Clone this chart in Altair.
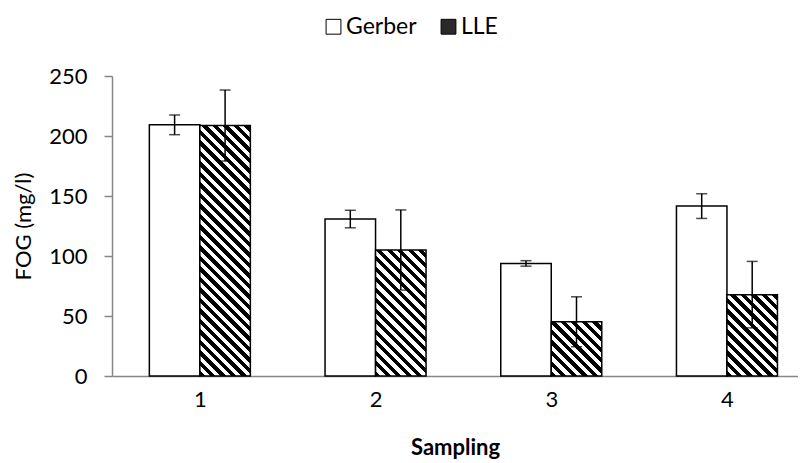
import altair as alt
import pandas as pd

# ---------------- data ----------------
samplings = [1, 2, 3, 4]
series_names = ["Gerber", "LLE"]
gerber_mean = [209.3, 130.8, 93.8, 141.6]
gerber_err = [8.2, 7.3, 2.3, 10.3]
lle_mean = [208.7, 105.0, 45.2, 67.8]
lle_err = [29.6, 33.4, 20.8, 27.7]
y_ticks = [0, 50, 100, 150, 200, 250]

rows = []
for i, s in enumerate(samplings):
    rows.append({"sampling": s, "series": "Gerber", "value": gerber_mean[i], "err": gerber_err[i]})
    rows.append({"sampling": s, "series": "LLE", "value": lle_mean[i], "err": lle_err[i]})
df = pd.DataFrame(rows)

# ---------------- layout / style ----------------
PLOT_W = 686
PLOT_H = 300
Y_MAX = 250
STEP_PX = 175.7
BAR_PX = 50.5
X_MIN = 0.5
X_MAX = X_MIN + PLOT_W / STEP_PX
BAR_U = BAR_PX / STEP_PX
FONT = "Lato"
AXIS_GRAY = "#868686"
FS = 22


def hatch(h, w=BAR_PX, period=10.5):
    """Diagonal '\\' stripes built as a hard-stop linear gradient."""
    total = w + h
    half = period / 2.0
    stops = []
    j = 0
    pos = 0.0
    while pos < total - 1e-9:
        end = min(pos + half, total)
        c = "black" if j % 2 == 0 else "white"
        stops.append(alt.GradientStop(offset=round(pos / total, 5), color=c))
        stops.append(alt.GradientStop(offset=round(end / total, 5), color=c))
        pos = end
        j += 1
    k = (w + h) / (w * w + h * h)
    return alt.LinearGradient(gradient="linear", stops=stops,
                              x1=0, y1=1, x2=round(w * k, 6), y2=round(1 - h * k, 6))


base = alt.Chart(df).transform_calculate(
    xl=f"datum.sampling + (datum.series == 'Gerber' ? -{BAR_U} : 0)",
).transform_calculate(
    xr=f"datum.xl + {BAR_U}",
    xm=f"datum.xl + {BAR_U / 2}",
    lo="datum.value - datum.err",
    hi="datum.value + datum.err",
)

xscale = alt.Scale(domain=[X_MIN, X_MAX], nice=False, zero=False)
yscale = alt.Scale(domain=[0, Y_MAX], nice=False)

x_axis = alt.Axis(values=samplings, format="d", ticks=False, grid=False,
                  domainColor=AXIS_GRAY, domainWidth=1.5,
                  labelFontSize=FS, labelPadding=13, labelColor="black", labelFont=FONT,
                  title="Sampling", titleFontSize=FS, titleFontWeight="bold",
                  titlePadding=27, titleColor="black", titleFont=FONT)
y_axis = alt.Axis(values=y_ticks, grid=False, domainColor=AXIS_GRAY, domainWidth=1.5,
                  tickColor=AXIS_GRAY, tickSize=8, tickWidth=1.5,
                  labelFontSize=FS, labelPadding=17, labelColor="black", labelFont=FONT,
                  title="FOG (mg/l)", titleFontSize=FS, titleFontWeight="normal",
                  titlePadding=13, titleColor="black", titleFont=FONT)

gerber = base.transform_filter("datum.series == 'Gerber'").mark_bar(
    stroke="black", strokeWidth=1.5
).encode(
    x=alt.X("xl:Q", scale=xscale, axis=x_axis),
    x2="xr:Q",
    y=alt.Y("value:Q", scale=yscale, axis=y_axis),
    y2=alt.datum(0),
    fill=alt.Fill("series:N",
                  scale=alt.Scale(domain=series_names, range=["white", "#2a2a2a"]),
                  legend=alt.Legend(orient="none", legendX=210, legendY=-61,
                                    direction="horizontal", title=None,
                                    symbolType="square", symbolSize=220,
                                    symbolStrokeColor="black", symbolStrokeWidth=1,
                                    symbolOpacity=1,
                                    labelFontSize=FS + 1, labelFont=FONT, labelColor="black",
                                    columnPadding=20, labelOffset=1)),
)

lle_layers = []
for i, s in enumerate(samplings):
    h_px = lle_mean[i] * PLOT_H / Y_MAX
    layer = base.transform_filter(
        f"datum.series == 'LLE' && datum.sampling == {s}"
    ).mark_bar(fill=hatch(h_px), stroke="black", strokeWidth=1.5).encode(
        x=alt.X("xl:Q", scale=xscale, axis=x_axis),
        x2="xr:Q",
        y=alt.Y("value:Q", scale=yscale, axis=y_axis),
        y2=alt.datum(0),
    )
    lle_layers.append(layer)

err_rule = base.mark_rule(color="black", strokeWidth=1.5).encode(
    x=alt.X("xm:Q", scale=xscale),
    y=alt.Y("lo:Q", scale=yscale),
    y2="hi:Q",
)
cap_lo = base.mark_tick(orient="horizontal", size=11, thickness=1.5, color="black").encode(
    x=alt.X("xm:Q", scale=xscale),
    y=alt.Y("lo:Q", scale=yscale),
)
cap_hi = base.mark_tick(orient="horizontal", size=11, thickness=1.5, color="black").encode(
    x=alt.X("xm:Q", scale=xscale),
    y=alt.Y("hi:Q", scale=yscale),
)

chart = alt.layer(gerber, *lle_layers, err_rule, cap_lo, cap_hi).properties(
    width=PLOT_W,
    height=PLOT_H,
    autosize=alt.AutoSizeParams(type="none"),
    padding={"left": 104, "top": 68, "right": 0, "bottom": 87},
).configure(font=FONT).configure_view(stroke=None)

chart.save("out.html", embed_options={"renderer": "svg", "actions": False})
